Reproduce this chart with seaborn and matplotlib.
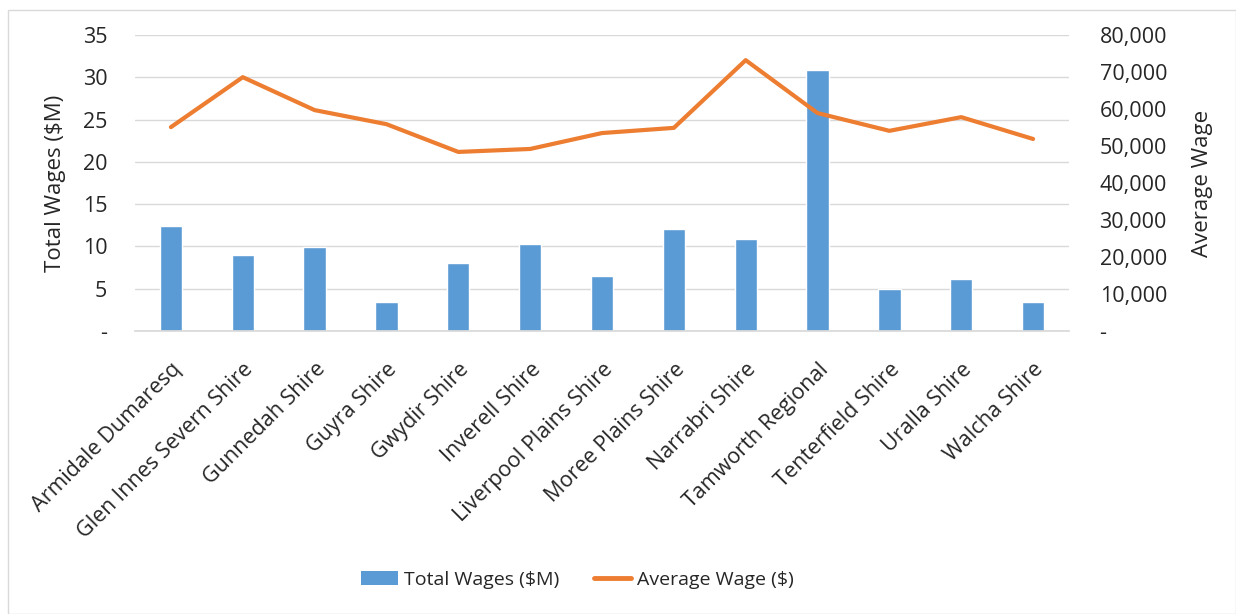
import numpy as np
import pandas as pd
import matplotlib
matplotlib.use("Agg")
import matplotlib.pyplot as plt
import matplotlib.ticker as mticker
from matplotlib.patches import Rectangle
from matplotlib.lines import Line2D
from matplotlib.patches import Patch
import seaborn as sns

categories = ["Armidale Dumaresq", "Glen Innes Severn Shire", "Gunnedah Shire",
              "Guyra Shire", "Gwydir Shire", "Inverell Shire", "Liverpool Plains Shire",
              "Moree Plains Shire", "Narrabri Shire", "Tamworth Regional",
              "Tenterfield Shire", "Uralla Shire", "Walcha Shire"]
total_wages = [12.4, 9.0, 9.9, 3.4, 8.0, 10.3, 6.5, 12.1, 10.9, 30.9, 5.0, 6.1, 3.4]
average_wage = [55100, 68600, 59700, 55900, 48400, 49200, 53500, 54900, 73200,
                58900, 54100, 57800, 51900]

bar_color = "#5B9BD5"
line_color = "#ED7D31"
text_color = "#262626"

sns.set_theme(style="white")
plt.rcParams["font.family"] = ["Open Sans", "DejaVu Sans"]
plt.rcParams["font.size"] = 13

df = pd.DataFrame({"cat": categories, "tw": total_wages, "aw": average_wage})

fig = plt.figure(figsize=(12.36, 6.14), dpi=100)
ax = fig.add_axes([135/1236, 1 - 331/614, (1069-135)/1236, (331-35)/614])

sns.barplot(data=df, x="cat", y="tw", color=bar_color, width=0.31, ax=ax,
            saturation=1, zorder=2)
ax.set_ylim(0, 35)
ax.set_yticks(np.arange(0, 36, 5))
ax.yaxis.set_major_formatter(mticker.FuncFormatter(lambda v, p: "-" if v == 0 else f"{v:.0f}"))
ax.grid(axis="y", color="#D9D9D9", linewidth=1, zorder=0)
ax.set_axisbelow(True)
for s in ["top", "right", "left"]:
    ax.spines[s].set_visible(False)
ax.spines["bottom"].set_color("#D9D9D9")
ax.set_xlabel("")
ax.set_ylabel("Total Wages ($M)", fontsize=16, color=text_color, labelpad=12)
ax.tick_params(axis="y", length=0, labelsize=15.5, labelcolor=text_color, pad=20)
ax.tick_params(axis="x", length=0, labelsize=15.5, labelcolor=text_color, pad=20)
plt.setp(ax.get_xticklabels(), rotation=45, ha="right", rotation_mode="anchor")
ax.set_xlim(-0.5, len(categories) - 0.5)

ax2 = ax.twinx()
sns.lineplot(data=df, x="cat", y="aw", color=line_color, linewidth=3, ax=ax2,
             sort=False, zorder=3)
ax2.set_ylim(0, 80000)
ax2.set_yticks(np.arange(0, 80001, 10000))
ax2.yaxis.set_major_formatter(mticker.FuncFormatter(lambda v, p: "-" if v == 0 else f"{v:,.0f}"))
for s in ["top", "right", "left", "bottom"]:
    ax2.spines[s].set_visible(False)
ax2.tick_params(axis="y", length=0, labelsize=15.5, labelcolor=text_color, pad=22)
ax2.set_ylabel("Average Wage", fontsize=16, color=text_color, labelpad=18)
ax2.set_xlabel("")
ax2.set_xlim(-0.5, len(categories) - 0.5)

handles = [Patch(facecolor=bar_color, edgecolor="none"),
           Line2D([0], [0], color=line_color, linewidth=3.5)]
fig.legend(handles, ["Total Wages ($M)", "Average Wage ($)"],
           loc="center", bbox_to_anchor=(577/1236, 1 - 580/614), ncol=2,
           frameon=False, fontsize=14, handlelength=1.9, columnspacing=1.8,
           handletextpad=0.3, labelcolor=text_color)

fig.patches.append(Rectangle((8/1236, 0), 1 - 8/1236, 1 - 10/614,
                             transform=fig.transFigure, fill=False,
                             edgecolor="#D9D9D9", linewidth=1))

fig.savefig("out.png", dpi=100)
